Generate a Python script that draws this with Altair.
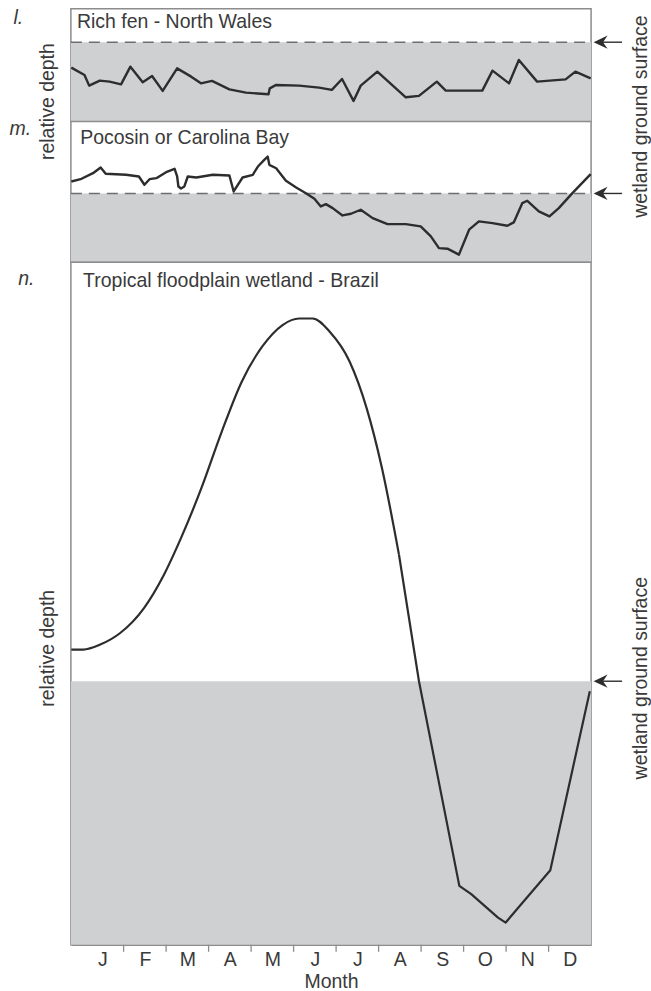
import altair as alt
import pandas as pd

# ---------------- data ----------------
MONTH_LETTERS = ["J", "F", "M", "A", "M", "J", "J", "A", "S", "O", "N", "D"]

# l. Rich fen - North Wales (relative depth, 0 = wetland ground surface)
l_month = [-0.23, 0.08, 0.19, 0.44, 0.67, 0.94, 1.16, 1.45, 1.67, 1.92, 2.26, 2.59, 2.82,
           3.08, 3.49, 3.88, 4.41, 4.44, 4.59, 5.13, 5.60, 5.90, 6.14, 6.41, 6.58, 6.97,
           7.64, 7.95, 8.37, 8.58, 9.44, 9.68, 10.07, 10.30, 10.73, 11.40, 11.63, 11.99]
l_depth = [-25.5, -32.8, -43.5, -38.5, -39.5, -42.2, -24.5, -40.2, -33.8, -48.8, -26.2, -34.5,
           -41.2, -38.8, -47.2, -50.5, -52.2, -46.2, -42.8, -43.5, -45.5, -47.8, -36.8, -58.8,
           -43.5, -29.5, -55.2, -53.8, -39.5, -48.5, -48.5, -28.5, -41.2, -17.8, -39.5, -37.2,
           -29.5, -36.2]

# m. Pocosin or Carolina Bay
m_month = [-0.23, 0.01, 0.28, 0.46, 0.58, 1.06, 1.36, 1.49, 1.61, 1.77, 2.00, 2.20, 2.26, 2.29,
           2.35, 2.43, 2.51, 2.71, 3.10, 3.49, 3.59, 3.80, 4.04, 4.16, 4.31, 4.39, 4.43, 4.59,
           4.82, 5.06, 5.29, 5.49, 5.64, 5.76, 5.92, 6.15, 6.35, 6.58, 6.86, 7.21, 7.64, 7.99,
           8.23, 8.42, 8.62, 8.89, 9.13, 9.36, 9.68, 10.03, 10.18, 10.38, 10.50, 10.77, 11.02,
           11.24, 11.56, 11.99]
m_depth = [12, 14.7, 20.3, 26, 19.7, 18.7, 17, 8.7, 14.3, 15.3, 21.3, 24.7, 17, 7, 5, 7, 17, 16,
           18.7, 18, 2, 16, 18.7, 27, 33.7, 37, 28.7, 25.3, 12.7, 6, 0.3, -5.3, -13, -10.7, -14.7,
           -22, -20.3, -16.3, -24.7, -30.7, -30.7, -33, -43, -54.7, -55.3, -61.3, -36.3, -28,
           -29.7, -32.3, -29, -9.7, -7.3, -18, -23, -14.7, 0.3, 19.3]

# n. Tropical floodplain wetland - Brazil: smooth rise/fall, then an angular dry-season trough
n_rise_month = [-0.23, 0.05, 0.45, 0.92, 1.48, 1.95, 2.35, 2.83, 3.31, 3.78, 4.26, 4.74, 5.13,
                5.45, 5.85, 6.32, 6.72, 7.08, 7.48]
n_rise_depth = [31.7, 31.7, 36.7, 48.3, 73.3, 106.7, 143.3, 193.3, 250, 300, 335, 356.7, 363.3,
                363.3, 350, 320, 273.3, 213.3, 126.7]
n_fall_month = [7.48, 7.95, 8.90, 9.18, 9.81, 9.99, 10.29, 11.04, 11.97]
n_fall_depth = [126.7, 0, -205, -213.3, -236.7, -241.7, -226.7, -189.3, -10]

l_domain = [-79, 33.5]
m_domain = [-68.5, 72]
n_domain = [-264, 419.5]
month_boundaries = list(range(1, 12))
month_centres = [i + 0.5 for i in range(12)]

# ---------------- style ----------------
W = 521
HL, HM, HN = 112.5, 140.5, 683.5
X_DOMAIN = [-0.24, 12.0]
FONT = "Liberation Sans"
FS = 19.5
TXT = "#3a3a3a"
LINE = "#2d2d2d"
FILL = "#cfd0d2"
BORDER = "#8c8c8c"
DASH = "#6e6e6e"
ARROW = "M -1 0 L 1 -0.95 L 0.35 0 L 1 0.95 Z"

GROUND = pd.DataFrame({"depth": [0.0]})


def label(text, x, y, angle=0, align="left", baseline="alphabetic", italic=False, size=FS):
    kw = dict(text=text, fontSize=size, align=align, baseline=baseline, font=FONT, color=TXT,
              fontStyle="italic" if italic else "normal")
    if angle:
        kw["angle"] = angle
    return alt.Chart(GROUND).mark_text(**kw).encode(x=alt.value(x), y=alt.value(y))


def panel(lines, y_domain, h, axis, extras, dashed=True, ticks=False):
    xs = alt.X("month:Q", scale=alt.Scale(domain=X_DOMAIN, nice=False, zero=False), axis=axis)
    ys = alt.Y("depth:Q", scale=alt.Scale(domain=y_domain, nice=False, zero=False), axis=None)
    g = alt.Chart(GROUND)
    layers = [
        g.mark_rect(color=FILL).encode(x=alt.value(0), x2=alt.value(W), y=ys, y2=alt.value(h)),
    ]
    if dashed:
        layers.append(
            g.mark_rule(color=DASH, strokeWidth=1.5, strokeDash=[11, 7]).encode(
                x=alt.value(0), x2=alt.value(W), y=ys)
        )
    for df, interp, sw in lines:
        layers.append(
            alt.Chart(df).mark_line(color=LINE, strokeWidth=sw, interpolate=interp,
                                    strokeJoin="round").encode(x=xs, y=ys)
        )
    layers.append(
        g.mark_rule(color=LINE, strokeWidth=1.4).encode(
            x=alt.value(W + 10), x2=alt.value(W + 31), y=ys)
    )
    layers.append(
        g.mark_point(shape=ARROW, filled=True, size=196, color=LINE, opacity=1).encode(
            x=alt.value(W + 9.5), y=ys)
    )
    if ticks:
        tdf = pd.DataFrame({"month": month_boundaries})
        layers.append(
            alt.Chart(tdf).mark_rule(color=BORDER, strokeWidth=1.3).encode(
                x=xs, y=alt.value(h), y2=alt.value(h + 7))
        )
    layers.extend(extras)
    return alt.layer(*layers).properties(width=W, height=h)


df_l = pd.DataFrame({"month": l_month, "depth": l_depth})
df_m = pd.DataFrame({"month": m_month, "depth": m_depth})
df_n1 = pd.DataFrame({"month": n_rise_month, "depth": n_rise_depth})
df_n2 = pd.DataFrame({"month": n_fall_month, "depth": n_fall_depth})

p_l = panel([(df_l, "linear", 2.4)], l_domain, HL, None, [
    label("Rich fen - North Wales", 6, 19),
    label("l.", -57.5, 15, italic=True),
    label("relative depth", -22.5, 93, angle=270, align="center", baseline="middle"),
    label("wetland ground surface", W + 49.5, 108, angle=270, align="center", baseline="middle"),
])

p_m = panel([(df_m, "linear", 2.4)], m_domain, HM, None, [
    label("Pocosin or Carolina Bay", 9.3, 22),
    label("m.", -61.5, 13, italic=True),
])

x_axis = alt.Axis(
    values=month_centres,
    labelExpr=f"{MONTH_LETTERS}[floor(datum.value)]",
    ticks=False, tickSize=0, grid=False,
    domain=True, domainColor=BORDER, domainWidth=1.5,
    labelFont=FONT, labelFontSize=FS, labelColor=TXT, labelPadding=6, labelAngle=0,
    title="Month", titleFont=FONT, titleFontSize=FS, titleFontWeight="normal",
    titleColor=TXT, titlePadding=3,
)

p_n = panel([(df_n1, "monotone", 2.2), (df_n2, "linear", 2.2)], n_domain, HN, x_axis, [
    label("Tropical floodplain wetland - Brazil", 12.2, 24.5),
    label("n.", -52.8, 22.8, italic=True),
    label("relative depth", -22.5, 386.5, angle=270, align="center", baseline="middle"),
    label("wetland ground surface", W + 49.5, 416.5, angle=270, align="center", baseline="middle"),
], dashed=False, ticks=True)

chart = (
    alt.vconcat(p_l, p_m, p_n, spacing=0, bounds="flush")
    .resolve_scale(x="independent", y="independent")
    .properties(padding={"left": 8, "top": 6, "right": 0, "bottom": 0}, background="white")
    .configure_view(stroke=BORDER, strokeWidth=1.5)
)

chart.save("out.html", embed_options={"renderer": "svg", "actions": False})
